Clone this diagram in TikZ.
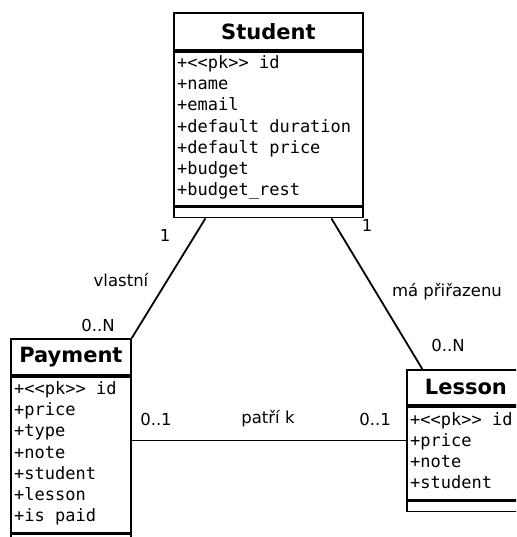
\documentclass[tikz,border=0pt]{standalone}
\usepackage{fontspec}
\setmainfont{DejaVu Sans}
\newfontfamily\attrfont{DejaVu Sans Mono}
\usetikzlibrary{calc}

\tikzset{
  umlline/.style={line width=1.8pt, black},
  classtitle/.style={draw, umlline, anchor=north west, inner sep=0pt,
    font=\bfseries\fontsize{21}{24}\selectfont},
  classpart/.style={draw, umlline, anchor=north west, inner sep=0pt},
  attr/.style={anchor=base west, inner sep=0pt,
    font=\attrfont\fontsize{17}{20}\selectfont},
  rolelabel/.style={inner sep=0pt, font=\fontsize{16.5}{19}\selectfont},
  assoc/.style={umlline}
}

\begin{document}
\begin{tikzpicture}[x=1pt, y=-1pt]
  \useasboundingbox (0,0) rectangle (516,537);
  \clip (0,0) rectangle (516,537);
  \fill[white] (0,0) rectangle (516,537);

  % ---------- Student ----------
  \node[classtitle, minimum width=189pt, minimum height=37pt] (student) at (173,12) {Student};
  \node[classpart, minimum width=189pt, minimum height=154pt] (studentattrs) at (student.south west) {};
  \node[classpart, minimum width=189pt, minimum height=10pt] (studentops) at (studentattrs.south west) {};
  \foreach [count=\i] \t in {+{<}{<}pk{>}{>} id, +name, +email, +default duration,
      +default price, +budget, +budget\_rest}
    \node[attr] (studentattr\i) at ($(studentattrs.north west)+(4,{17.8+(\i-1)*21.2})$) {\t};

  % ---------- Payment ----------
  \node[classtitle, minimum width=120pt, minimum height=36pt] (payment) at (10,338) {Payment};
  \node[classpart, minimum width=120pt, minimum height=156pt] (paymentattrs) at (payment.south west) {};
  \node[classpart, minimum width=120pt, minimum height=20pt] (paymentops) at (paymentattrs.south west) {};
  \foreach [count=\i] \t in {+{<}{<}pk{>}{>} id, +price, +type, +note, +student,
      +lesson, +is paid}
    \node[attr] (paymentattr\i) at ($(paymentattrs.north west)+(4,{18.6+(\i-1)*21.2})$) {\t};

  % ---------- Lesson ----------
  \node[classtitle, minimum width=118pt, minimum height=35pt] (lesson) at (406,369) {Lesson};
  \node[classpart, minimum width=118pt, minimum height=93pt] (lessonattrs) at (lesson.south west) {};
  \node[classpart, minimum width=118pt, minimum height=10pt] (lessonops) at (lessonattrs.south west) {};
  \foreach [count=\i] \t in {+{<}{<}pk{>}{>} id, +price, +note, +student}
    \node[attr] (lessonattr\i) at ($(lessonattrs.north west)+(4,{19.4+(\i-1)*21.2})$) {\t};

  % ---------- Associations ----------
  \coordinate (ownsS) at ($(studentops.south west)!0.17!(studentops.south east)$);
  \coordinate (assignS) at ($(studentops.south west)!0.83!(studentops.south east)$);
  \coordinate (assignL) at ($(lesson.north west)!0.136!(lesson.north east)$);
  \coordinate (belongsL) at ($(lessonattrs.north west)!0.366!(lessonattrs.south west)$);

  \draw[assoc] (ownsS) -- (payment.north east);
  \draw[assoc] (assignS) -- (assignL);
  \draw[assoc] (belongsL) -- (belongsL -| paymentattrs.east);

  % ---------- Labels ----------
  \node[rolelabel] (ownsone) at (165,235) {1};
  \node[rolelabel] (ownsname) at (121,280) {vlastní};
  \node[rolelabel] (ownsmany) at (98,325) {0..N};
  \node[rolelabel] (assignone) at (367,225) {1};
  \node[rolelabel] (assignname) at (447,292) {má přiřazenu};
  \node[rolelabel] (assignmany) at (448,345) {0..N};
  \node[rolelabel] (belongsP) at (156,419) {0..1};
  \node[rolelabel] (belongsname) at (268,419) {patří k};
  \node[rolelabel] (belongsLmult) at (375,419) {0..1};
\end{tikzpicture}
\end{document}
